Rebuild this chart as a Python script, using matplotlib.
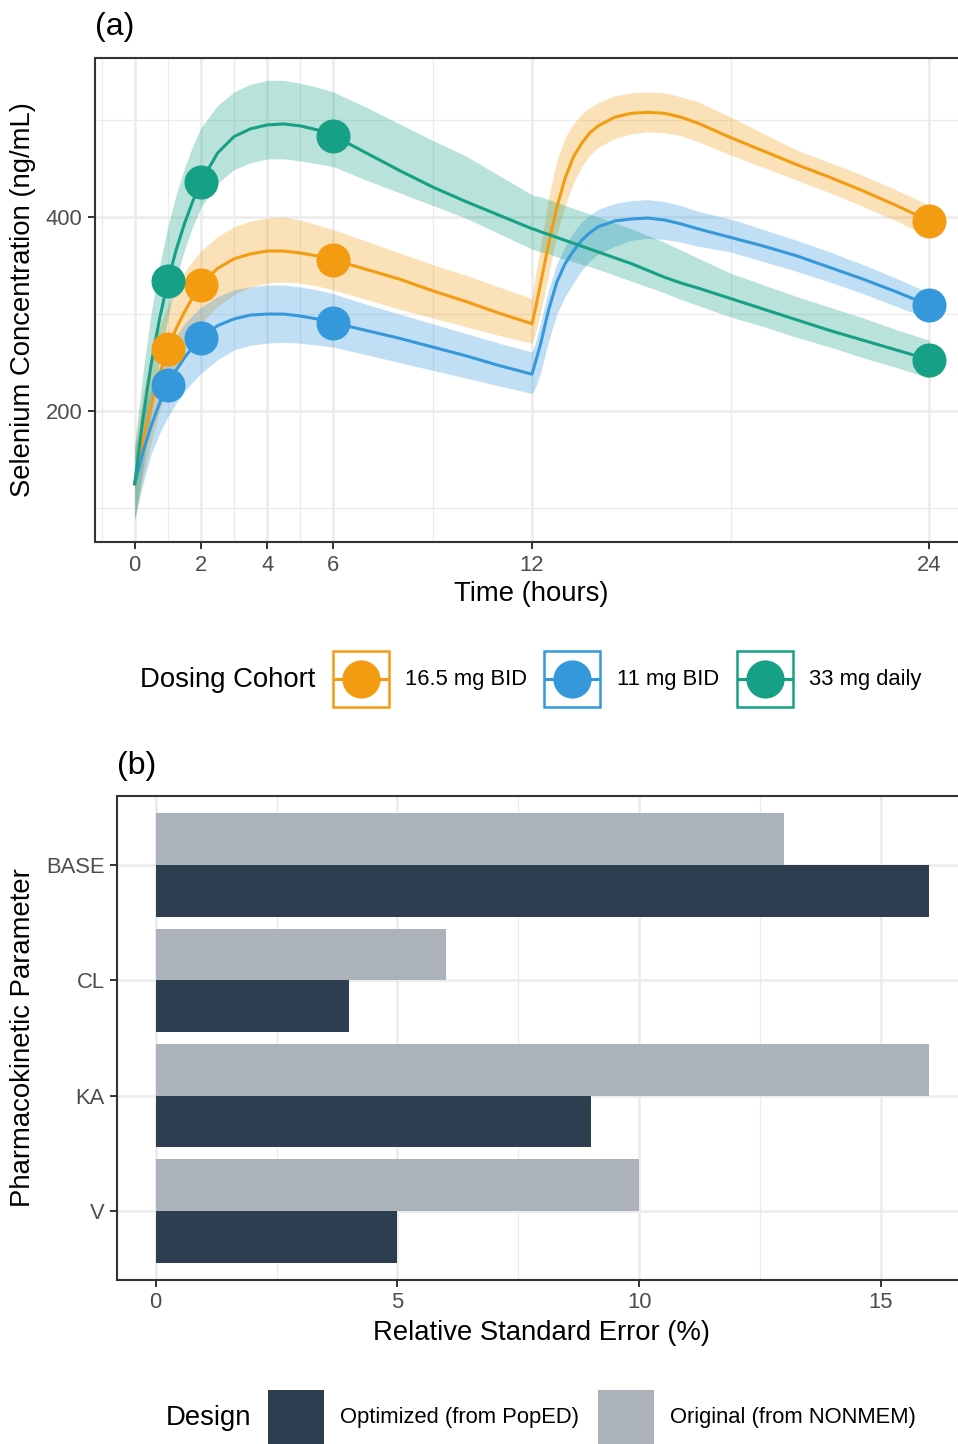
import matplotlib.pyplot as plt
from matplotlib.patches import Rectangle

plt.rcParams['font.family'] = ['Liberation Sans', 'DejaVu Sans']

# simulated selenium profiles, read on a common time grid (hours)
hours = [0, 0.25, 0.5, 0.75, 1, 1.25, 1.5, 1.75, 2, 2.5, 3, 3.5, 4, 4.5, 5, 5.5, 6,
         7, 8, 9, 10, 11, 12, 12.1, 12.25, 12.5, 12.75, 13, 13.25, 13.5, 13.75, 14,
         14.5, 15, 15.5, 16, 16.5, 17, 18, 19, 20, 21, 22, 23, 24]

cohorts = ["16.5 mg BID", "11 mg BID", "33 mg daily"]
cohort_colors = ["#F39C12", "#3498DB", "#16A085"]

bid16_median = [125, 170, 207, 238, 264, 285, 302, 317, 330, 347, 357, 362, 365, 365, 363, 360, 356,
                346, 336, 324, 313, 301, 290, 305, 330, 372, 410, 440, 462, 476, 487, 494,
                503, 507, 508, 507, 503, 497, 482, 468, 454, 441, 427, 412, 396]
bid16_lower = [90, 132, 168, 200, 226, 246, 262, 277, 290, 308, 320, 328, 332, 333, 332, 329, 325,
               315, 305, 296, 287, 278, 270, 280, 300, 340, 383, 412, 435, 452, 464, 472,
               481, 486, 488, 487, 484, 478, 464, 451, 438, 425, 411, 396, 380]
bid16_upper = [163, 218, 258, 287, 308, 327, 343, 355, 365, 380, 390, 396, 399, 400, 397, 392, 387,
               375, 363, 351, 340, 328, 316, 340, 368, 420, 458, 482, 496, 506, 513, 518,
               525, 528, 529, 528, 524, 519, 503, 486, 469, 456, 443, 428, 412]

bid11_median = [125, 158, 185, 208, 227, 242, 255, 266, 275, 288, 295, 299, 300, 300, 298, 295, 291,
                283, 275, 266, 257, 247, 238, 250, 268, 304, 333, 352, 365, 376, 384, 390,
                396, 398, 399, 397, 393, 388, 379, 370, 360, 348, 336, 323, 309]
bid11_lower = [88, 125, 156, 177, 194, 208, 220, 230, 239, 253, 263, 268, 270, 271, 270, 268, 266,
               258, 250, 242, 234, 226, 218, 224, 238, 272, 300, 318, 332, 345, 355, 362,
               370, 376, 378, 377, 374, 370, 364, 354, 344, 333, 321, 308, 295]
bid11_upper = [160, 197, 225, 246, 262, 277, 290, 299, 307, 318, 325, 328, 330, 330, 328, 325, 321,
               310, 300, 290, 280, 270, 261, 270, 290, 325, 352, 370, 384, 395, 402, 408,
               414, 417, 418, 416, 412, 406, 398, 387, 376, 364, 351, 337, 322]

daily33_median = [125, 193, 249, 295, 334, 366, 393, 416, 436, 466, 483, 491, 495, 496, 494, 490, 484,
                  466, 448, 431, 416, 402, 388, 387, 385, 382, 379, 376, 373, 370, 367, 364,
                  358, 352, 345, 338, 332, 327, 316, 305, 294, 283, 273, 263, 253]
daily33_lower = [88, 140, 198, 252, 296, 335, 366, 390, 410, 435, 449, 456, 460, 460, 458, 455, 452,
                 438, 425, 412, 399, 383, 367, 366, 364, 362, 359, 356, 354, 351, 349, 346,
                 340, 334, 328, 322, 315, 309, 297, 287, 276, 266, 255, 245, 234]
daily33_upper = [166, 240, 302, 350, 390, 423, 450, 473, 492, 515, 529, 537, 541, 541, 538, 534, 529,
                 513, 496, 479, 463, 443, 423, 422, 421, 418, 415, 412, 409, 406, 403, 400,
                 394, 388, 381, 374, 366, 358, 342, 330, 318, 307, 296, 284, 273]

# sampling times of the design
sample_times = [1, 2, 6, 24]
bid16_samples = [264, 330, 356, 396]
bid11_samples = [227, 275, 291, 309]
daily33_samples = [334, 436, 484, 253]

# relative standard errors per parameter
params = ["BASE", "CL", "KA", "V"]
rse_optimized = [16, 4, 9, 5]
rse_original = [13, 6, 16, 10]
designs = ["Optimized (from PopED)", "Original (from NONMEM)"]
design_colors = ["#2C3E50", "#ABB2B9"]

W, H = 958, 1444
fig = plt.figure(figsize=(W / 100, H / 100), dpi=100)


def px_box(left, top, right, bottom):
    return [left / W, 1 - bottom / H, (right - left) / W, (bottom - top) / H]


def style_axes(ax):
    for s in ax.spines.values():
        s.set_color('#333333')
        s.set_linewidth(1.5)
    ax.tick_params(which='major', length=5, width=1.4, color='#333333',
                   labelcolor='#4D4D4D', labelsize=15.8, pad=4)
    ax.tick_params(which='minor', length=0)
    ax.grid(which='major', color='#EBEBEB', lw=1.8)
    ax.grid(which='minor', color='#EBEBEB', lw=0.9)
    ax.set_axisbelow(True)


# ---- (a) concentration-time profiles ----
ax1 = fig.add_axes(px_box(95, 58, 969, 542))
style_axes(ax1)
medians = [bid16_median, bid11_median, daily33_median]
lowers = [bid16_lower, bid11_lower, daily33_lower]
uppers = [bid16_upper, bid11_upper, daily33_upper]
samples = [bid16_samples, bid11_samples, daily33_samples]

for lo, hi, col in zip(lowers, uppers, cohort_colors):
    ax1.fill_between(hours, lo, hi, color=col, alpha=0.3, lw=0, zorder=1)
for med, col in zip(medians, cohort_colors):
    ax1.plot(hours, med, color=col, lw=2.2, zorder=2, solid_joinstyle='round')
for smp, col in zip(samples, cohort_colors):
    ax1.plot(sample_times, smp, 'o', ms=24.5, color=col, mec='none', zorder=3)

ax1.set_xlim(-1.2, 25.2)
ax1.set_ylim(65, 564)
ax1.set_xticks([0, 2, 4, 6, 12, 24])
ax1.set_xticks([-1, 1, 3, 5, 9, 18], minor=True)
ax1.set_yticks([200, 400])
ax1.set_yticks([100, 300, 500], minor=True)

# ---- (b) relative standard errors ----
ax2 = fig.add_axes(px_box(117, 796, 968, 1280))
style_axes(ax2)
ypos = [4, 3, 2, 1]
ax2.barh(ypos, rse_original, height=0.45, align='edge', color=design_colors[1], zorder=2)
ax2.barh([y - 0.45 for y in ypos], rse_optimized, height=0.45, align='edge',
         color=design_colors[0], zorder=2)
ax2.set_xlim(-0.8, 16.8)
ax2.set_ylim(0.4, 4.6)
ax2.set_xticks([0, 5, 10, 15])
ax2.set_xticks([2.5, 7.5, 12.5], minor=True)
ax2.set_yticks(ypos)
ax2.set_yticklabels(params)

# ---- titles, tags and legends on a pixel overlay ----
ov = fig.add_axes([0, 0, 1, 1], zorder=5)
ov.set_xlim(0, W)
ov.set_ylim(H, 0)
ov.axis('off')

ov.text(95, 27, "(a)", fontsize=23, ha='left', va='center')
ov.text(117, 766, "(b)", fontsize=23, ha='left', va='center')
ov.text(23, 300, "Selenium Concentration (ng/mL)", fontsize=19.8, rotation=90,
        ha='center', va='center')
ov.text(531, 594, "Time (hours)", fontsize=19.8, ha='center', va='center')
ov.text(23, 1038, "Pharmacokinetic Parameter", fontsize=19.8, rotation=90,
        ha='center', va='center')
ov.text(542, 1333, "Relative Standard Error (%)", fontsize=19.8, ha='center', va='center')

# cohort legend
ov.text(140, 680, "Dosing Cohort", fontsize=19.8, ha='left', va='center')
key_lefts = [333, 544, 737]
label_lefts = [405, 617, 809]
for name, col, kx, lx in zip(cohorts, cohort_colors, key_lefts, label_lefts):
    ov.add_patch(Rectangle((kx, 651), 56, 56, facecolor='white', edgecolor=col, lw=1.8))
    ov.plot([kx + 2, kx + 54], [679, 679], color=col, lw=2.2)
    ov.plot([kx + 28], [679], 'o', ms=27.5, color=col, mec='none')
    ov.text(lx, 680, name, fontsize=15.8, ha='left', va='center')

# design legend
ov.text(166, 1418, "Design", fontsize=19.8, ha='left', va='center')
for name, col, kx, lx in zip(designs, design_colors, [268, 598], [340, 670]):
    ov.add_patch(Rectangle((kx, 1390), 56, 56, facecolor=col, edgecolor='none'))
    ov.text(lx, 1418, name, fontsize=15.8, ha='left', va='center')

fig.savefig('out.png', dpi=100)
